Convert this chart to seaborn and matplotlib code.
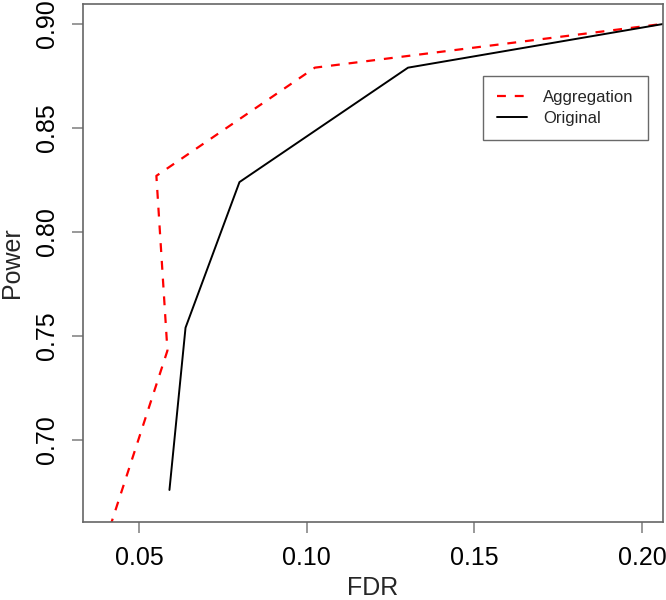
import matplotlib
matplotlib.use("Agg")
import matplotlib.pyplot as plt
import seaborn as sns
import pandas as pd
from matplotlib.lines import Line2D

# values
agg_fdr = [0.0396, 0.0584, 0.0551, 0.1024, 0.2100]
agg_power = [0.650, 0.743, 0.827, 0.879, 0.9008]
orig_fdr = [0.0590, 0.0638, 0.0799, 0.1302, 0.2100]
orig_power = [0.676, 0.754, 0.824, 0.879, 0.901]

x_ticks = [0.05, 0.10, 0.15, 0.20]
y_ticks = [0.70, 0.75, 0.80, 0.85, 0.90]

agg = pd.DataFrame({"FDR": agg_fdr, "Power": agg_power})
orig = pd.DataFrame({"FDR": orig_fdr, "Power": orig_power})

sns.set_style("white")
plt.rcParams["font.family"] = ["Liberation Sans", "DejaVu Sans"]

fig = plt.figure(figsize=(6.66, 6.0), dpi=100)
ax = fig.add_axes([83 / 666, 78 / 600, 580 / 666, 518 / 600])

sns.lineplot(data=agg, x="FDR", y="Power", sort=False, estimator=None,
             color="#ff0000", linewidth=1.6, dashes=False, ax=ax)
ax.lines[-1].set_dashes((4, 4))
sns.lineplot(data=orig, x="FDR", y="Power", sort=False, estimator=None,
             color="black", linewidth=1.4, ax=ax)

ax.set_xlim(0.0332, 0.2063)
ax.set_ylim(0.6606, 0.9096)
ax.set_xticks(x_ticks)
ax.set_xticklabels([f"{v:.2f}" for v in x_ticks])
ax.set_yticks(y_ticks)
ax.set_yticklabels([f"{v:.2f}" for v in y_ticks], rotation=90, va="center")

for s in ax.spines.values():
    s.set_color("#666666")
    s.set_linewidth(1.2)
ax.tick_params(axis="both", direction="out", length=8, width=1.2,
               color="#888888", labelsize=18, pad=9, labelcolor="black",
               bottom=True, left=True)

ax.set_xlabel("FDR", fontsize=18)
ax.set_ylabel("Power", fontsize=18)
ax.xaxis.set_label_coords(0.5, -0.104)
ax.yaxis.set_label_coords(-0.101, 0.5)

handles = [
    Line2D([], [], color="#ff0000", linewidth=1.6, dashes=(4, 4)),
    Line2D([], [], color="black", linewidth=1.4),
]
leg = ax.legend(handles, ["Aggregation", "Original"], loc="upper right",
                bbox_to_anchor=(648 / 666, 1 - 76 / 600), bbox_transform=fig.transFigure,
                fontsize=12, frameon=True, fancybox=False, handlelength=1.8,
                handletextpad=1.0, borderpad=0.85, labelspacing=0.35,
                borderaxespad=0)
leg.get_frame().set_edgecolor("#444444")
leg.get_frame().set_linewidth(1.0)

fig.savefig("out.png", dpi=100)
